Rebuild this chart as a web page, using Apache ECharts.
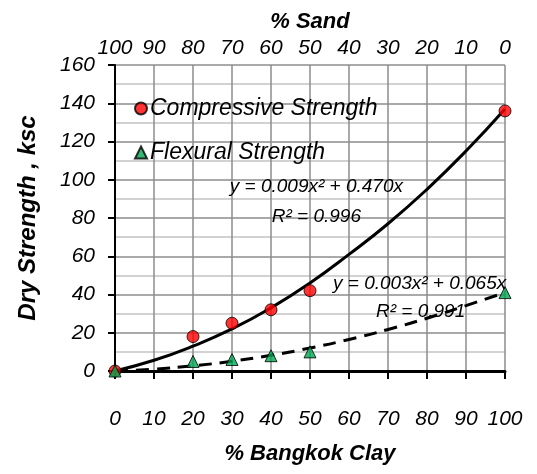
<!DOCTYPE html>
<html>
<head>
<meta charset="utf-8">
<script src="https://cdn.jsdelivr.net/npm/echarts@6/dist/echarts.min.js"></script>
<style>
html,body{margin:0;padding:0;background:#fff;}
#chart{width:537px;height:474px;}
</style>
</head>
<body>
<div id="chart"></div>
<script>
// ---- data ----
const clayPct = [0, 20, 30, 40, 50, 100];
const compressive = [0, 18, 25, 32, 42, 136];
const flexural = [0, 5, 6, 8, 10, 41];
const trendX = [0, 10, 20, 30, 40, 50, 60, 70, 80, 90, 100];
const compressiveTrend = [0, 5.6, 13, 22, 33, 46, 61, 77, 95, 115, 137];
const flexuralTrend = [0, 1, 2.7, 5.1, 8.2, 12, 16.5, 21.7, 27.6, 34.2, 41];
const seriesNames = ['Compressive Strength', 'Flexural Strength'];
const eqCompressive = ['y = 0.009x\u00B2 + 0.470x', 'R\u00B2 = 0.996'];
const eqFlexural = ['y = 0.003x\u00B2 + 0.065x', 'R\u00B2 = 0.991'];
const xTitle = '% Bangkok Clay';
const x2Title = '% Sand';
const yTitle = 'Dry Strength , ksc';

const pairs = (xs, ys) => xs.map((x, i) => [x, ys[i]]);
const FONT = 'Liberation Sans';

const chart = echarts.init(document.getElementById('chart'), null, {renderer: 'canvas'});
const eqFont = 'italic 19px "Liberation Sans"';

chart.setOption({
  animation: false,
  backgroundColor: '#fff',
  grid: {left: 115, right: 32, top: 65, bottom: 103},
  legend: {
    data: seriesNames,
    orient: 'vertical',
    left: 129,
    top: 92,
    itemGap: 21,
    itemWidth: 12,
    itemHeight: 12,
    textStyle: {fontFamily: FONT, fontStyle: 'italic', fontSize: 23, color: '#000', padding: [0, 0, 0, -2]}
  },
  xAxis: [{
    type: 'value', min: 0, max: 100, interval: 10, position: 'bottom',
    name: xTitle, nameLocation: 'middle', nameGap: 72,
    nameTextStyle: {fontFamily: FONT, fontStyle: 'italic', fontWeight: 'bold', fontSize: 22, color: '#000'},
    axisLine: {show: true, onZero: false, lineStyle: {color: '#000', width: 3}},
    axisTick: {show: true, length: 8, lineStyle: {color: '#000', width: 2}},
    axisLabel: {margin: 38, fontFamily: FONT, fontStyle: 'italic', fontSize: 21, color: '#000'},
    splitLine: {show: true, lineStyle: {color: '#8c8c8c', width: 1.5}}
  }, {
    type: 'value', min: 0, max: 100, interval: 10, position: 'top', inverse: true,
    name: x2Title, nameLocation: 'middle', nameGap: 32,
    nameTextStyle: {fontFamily: FONT, fontStyle: 'italic', fontWeight: 'bold', fontSize: 22, color: '#000'},
    axisLine: {show: false},
    axisTick: {show: false},
    axisLabel: {margin: 6, fontFamily: FONT, fontStyle: 'italic', fontSize: 21, color: '#000'},
    splitLine: {show: false}
  }],
  yAxis: {
    type: 'value', min: 0, max: 160, interval: 20,
    name: yTitle, nameLocation: 'middle', nameGap: 75, nameRotate: 90,
    nameTextStyle: {fontFamily: FONT, fontStyle: 'italic', fontWeight: 'bold', fontSize: 24, color: '#000'},
    axisLine: {show: true, lineStyle: {color: '#000', width: 2}},
    axisTick: {show: true, length: 7, lineStyle: {color: '#000', width: 2}},
    axisLabel: {margin: 20, fontFamily: FONT, fontStyle: 'italic', fontSize: 21, color: '#000'},
    splitLine: {show: true, lineStyle: {color: '#8c8c8c', width: 1.5}},
    minorTick: {show: false, splitNumber: 2},
    minorSplitLine: {show: true, lineStyle: {color: '#c4c4c4', width: 1.5}}
  },
  series: [{
    name: 'trendC', type: 'line', smooth: true, showSymbol: false, silent: true, z: 2,
    data: pairs(trendX, compressiveTrend),
    lineStyle: {color: '#000', width: 3}
  }, {
    name: 'trendF', type: 'line', smooth: true, showSymbol: false, silent: true, z: 2,
    data: pairs(trendX, flexuralTrend),
    lineStyle: {color: '#000', width: 3, type: [13, 8]}
  }, {
    name: seriesNames[0], type: 'scatter', symbol: 'circle', symbolSize: 12, z: 5,
    data: pairs(clayPct, compressive),
    itemStyle: {color: '#ff0000', borderColor: '#000', borderWidth: 1}
  }, {
    name: seriesNames[1], type: 'scatter', symbol: 'triangle', symbolSize: 12, z: 6,
    data: pairs(clayPct, flexural),
    itemStyle: {color: '#00a651', borderColor: '#000', borderWidth: 1}
  }],
  graphic: [
    {type: 'text', x: 403, y: 187, z: 10, style: {text: eqCompressive[0], font: eqFont, fill: '#000', align: 'right', verticalAlign: 'middle'}},
    {type: 'text', x: 361, y: 217, z: 10, style: {text: eqCompressive[1], font: eqFont, fill: '#000', align: 'right', verticalAlign: 'middle'}},
    {type: 'text', x: 333, y: 284, z: 10, style: {text: eqFlexural[0], font: eqFont, fill: '#000', align: 'left', verticalAlign: 'middle'}},
    {type: 'text', x: 376, y: 312, z: 10, style: {text: eqFlexural[1], font: eqFont, fill: '#000', align: 'left', verticalAlign: 'middle'}}
  ]
});
</script>
</body>
</html>
